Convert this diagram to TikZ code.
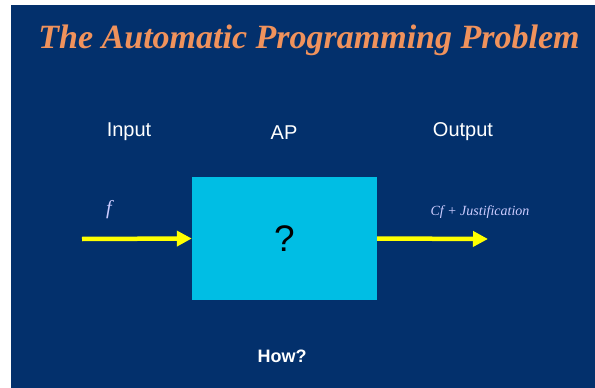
\documentclass[tikz,border=0pt]{standalone}
\usepackage{fontspec}
\setmainfont{Liberation Serif}
\setsansfont{Liberation Sans}
\usepackage{tikz}
\usetikzlibrary{arrows.meta, positioning, calc}
\usepackage{xcolor}
\definecolor{slidebg}{RGB}{3,48,108}
\definecolor{boxcyan}{RGB}{0,190,228}
\definecolor{titleorange}{RGB}{240,146,92}
\definecolor{arrowyellow}{RGB}{255,255,0}

\begin{document}
\begin{tikzpicture}[
  x=1pt, y=-1pt,
  ttl/.style  = {font=\fontsize{34}{38}\selectfont\bfseries\itshape, text=titleorange},
  lbl/.style  = {font=\sffamily\fontsize{20}{24}\selectfont, text=white},
  ann/.style  = {text=white!80!blue},
  apbox/.style = {fill=boxcyan, minimum width=185pt, minimum height=123pt,
                  inner sep=0pt, font=\sffamily\fontsize{37}{40}\selectfont},
  arr/.style  = {-{Triangle[length=15pt, width=15pt]}, line width=4.5pt, draw=arrowyellow},
]

% ── Canvas ───────────────────────────────────────────────────────────────────
\useasboundingbox (0,0) rectangle (595,388);
\fill[white] (0,0) rectangle (595,388);
\fill[slidebg] (11,5) rectangle (595,388);

% ── Title ────────────────────────────────────────────────────────────────────
\node[ttl] (title) at (309,40) {The Automatic Programming Problem};

% ── Headings ─────────────────────────────────────────────────────────────────
\node[lbl] (input)  at (129,132) {Input};
\node[lbl] (ap)     at (284,133) {AP};
\node[lbl] (output) at (463,132) {Output};

% ── AP box ───────────────────────────────────────────────────────────────────
\node[apbox] (box) at (284.5,238.5) {?};

% ── In / out arrows ──────────────────────────────────────────────────────────
\coordinate (src) at (82,239);
\coordinate (dst) at (488,239);
\draw[arr] (src) -- (box.west);
\draw[arr] (box.east) -- (dst);

\node[ann, font=\itshape\fontsize{20}{22}\selectfont] (f) at (109,210) {f};
\node[ann, font=\itshape\fontsize{14}{16}\selectfont] (cf) at (480,212)
      {Cf + Justification};

% ── Question ─────────────────────────────────────────────────────────────────
\node[lbl, font=\sffamily\bfseries\fontsize{18}{20}\selectfont] (how) at (282,356) {How?};

\end{tikzpicture}
\end{document}
